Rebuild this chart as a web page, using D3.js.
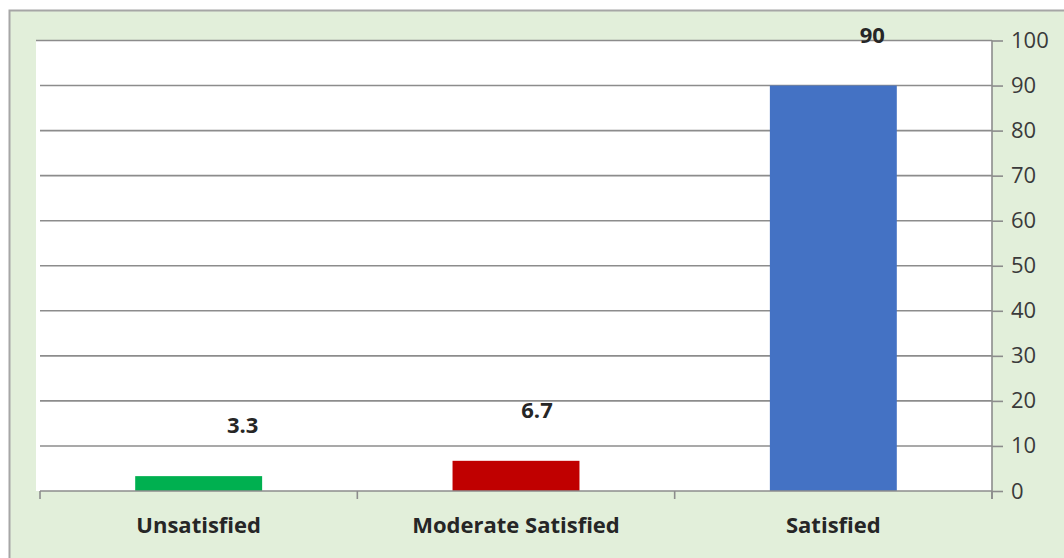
<!DOCTYPE html>
<html>
<head>
<meta charset="utf-8">
<script src="https://cdn.jsdelivr.net/npm/d3@7"></script>
<style>
  html, body { margin: 0; padding: 0; background: #ffffff; }
  svg { display: block; }
</style>
</head>
<body>
<script>
// Satisfaction levels (%)
const categories = ["Unsatisfied", "Moderate Satisfied", "Satisfied"];
const values = [3.3, 6.7, 90];
const barColors = ["#00b050", "#c00000", "#4472c4"];
const yTicks = [0, 10, 20, 30, 40, 50, 60, 70, 80, 90, 100];

// Data labels sit a little to the right of each bar's centre
const labelNudgeX = [44, 21, 39];

const W = 1064, H = 558;
const plot = { left: 40, right: 992, top: 40.5, bottom: 491 };

const svg = d3.select("body").append("svg")
  .attr("width", W).attr("height", H);

// chart area panel
svg.append("rect")
  .attr("x", 9.5).attr("y", 10.5)
  .attr("width", W + 10).attr("height", H + 10)
  .attr("fill", "#e2efda")
  .attr("stroke", "#a6a6a6").attr("stroke-width", 2);

// plot area
svg.append("rect")
  .attr("x", 36).attr("y", plot.top)
  .attr("width", plot.right - 36).attr("height", plot.bottom - plot.top)
  .attr("fill", "#ffffff");

const x = d3.scaleBand()
  .domain(categories)
  .range([plot.left, plot.right])
  .paddingInner(0.6)
  .paddingOuter(0.3);

const xOuter = d3.scaleBand()
  .domain(categories)
  .range([plot.left, plot.right])
  .padding(0);

const y = d3.scaleLinear()
  .domain([0, 100])
  .range([plot.bottom, plot.top]);

// horizontal gridlines
svg.append("g")
  .selectAll("line")
  .data(yTicks.filter(d => d > 0))
  .join("line")
  .attr("x1", d => d === 100 ? 36 : plot.left)
  .attr("x2", plot.right)
  .attr("y1", d => y(d)).attr("y2", d => y(d))
  .attr("stroke", "#8c8c8c").attr("stroke-width", 1.6);

// right value axis
const yAxis = d3.axisRight(y)
  .tickValues(yTicks)
  .tickSize(11)
  .tickPadding(8)
  .tickFormat(d3.format("d"));

const gy = svg.append("g")
  .attr("transform", `translate(${plot.right},0)`)
  .call(yAxis);
gy.select(".domain").attr("stroke", "#8c8c8c").attr("stroke-width", 1.6)
  .attr("d", `M0,${plot.top}V${plot.bottom + 8}`);
gy.selectAll(".tick line").attr("stroke", "#8c8c8c").attr("stroke-width", 1.6);
gy.selectAll(".tick text")
  .attr("fill", "#3a3a3a")
  .style("font-family", "'Open Sans', sans-serif")
  .style("font-size", "22px");

// bars
svg.append("g")
  .selectAll("rect")
  .data(values)
  .join("rect")
  .attr("x", (d, i) => x(categories[i]))
  .attr("width", x.bandwidth())
  .attr("y", d => y(d))
  .attr("height", d => y(0) - y(d))
  .attr("fill", (d, i) => barColors[i]);

// category axis
const xAxis = d3.axisBottom(xOuter).tickSize(0).tickPadding(26);
const gx = svg.append("g")
  .attr("transform", `translate(0,${plot.bottom})`)
  .call(xAxis);
gx.select(".domain").attr("stroke", "#8c8c8c").attr("stroke-width", 1.6)
  .attr("d", `M${plot.left},0H${plot.right}`);
gx.selectAll(".tick text")
  .attr("fill", "#262626")
  .style("font-family", "'Open Sans', sans-serif")
  .style("font-size", "22px")
  .style("font-weight", "bold");

// category separators
svg.append("g")
  .selectAll("line")
  .data(categories.concat(["end"]))
  .join("line")
  .attr("x1", (d, i) => i < categories.length ? xOuter(d) : plot.right)
  .attr("x2", (d, i) => i < categories.length ? xOuter(d) : plot.right)
  .attr("y1", plot.bottom).attr("y2", plot.bottom + 8)
  .attr("stroke", "#8c8c8c").attr("stroke-width", 1.6);

// data labels
svg.append("g")
  .selectAll("text")
  .data(values)
  .join("text")
  .attr("x", (d, i) => x(categories[i]) + x.bandwidth() / 2 + labelNudgeX[i])
  .attr("y", d => y(d) - 43)
  .attr("text-anchor", "middle")
  .attr("fill", "#262626")
  .style("font-family", "'Open Sans', sans-serif")
  .style("font-size", "22px")
  .style("font-weight", "bold")
  .text(d => d);
</script>
</body>
</html>
